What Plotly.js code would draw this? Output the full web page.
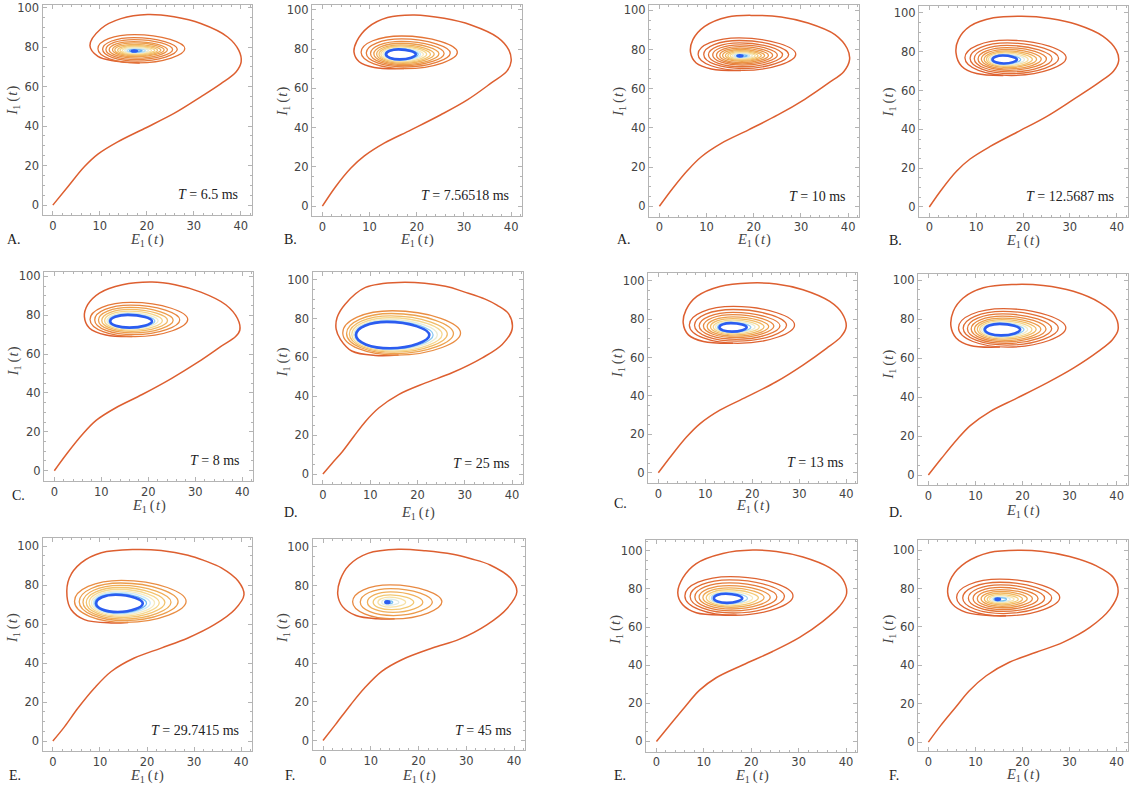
<!DOCTYPE html>
<html><head><meta charset="utf-8">
<script src="https://cdn.plot.ly/plotly-3.0.1.min.js"></script>
<style>html,body{margin:0;padding:0;background:#fff}</style>
</head><body><div id="chart" style="width:1129px;height:786px"></div>
<script>
// ---------------- data ----------------
const panelLetters = ['A.','B.','A.','B.','C.','D.','C.','D.','E.','F.','E.','F.'];
const periodLabels = ['6.5','7.56518','10','12.5687','8','25','13','','29.7415','45','',''];
const xTickVals = [0,10,20,30,40];
const yTickVals = [0,20,40,60,80,100];

// outer trajectories (E1, I1)
const trajX1 = [0,3.2,6.7,9.6,13.8,19.5,25.8,31.5,35.8,39.0,40.1,39.6,37.2,31.5,25.8,20.2,14.5,10.3,7.9,9.6,13.1,18.5];
const trajY1 = [0,9.3,19.4,25.8,32.0,38.8,46.4,54.8,61.5,67.4,72.5,78.3,85.1,91.9,95.3,96.5,94.4,89.4,80.8,75.3,73.0,72.0];
const trajX2 = [0,2.8,6.0,8.9,13.1,18.8,25.1,30.8,35.8,39.1,40.0,39.5,37.2,31.5,25.8,19.5,13.8,9.6,7.3,6.7,7.8,11.0,17.3];
const trajY2 = [0,9.9,19.3,25.6,32.1,38.9,46.6,54.3,62.8,68.8,73.9,79.6,85.9,92.3,95.7,97.4,96.1,91.0,84.1,78.5,73.6,70.7,70.1];
const trajX3 = [0,2.8,6.0,8.9,13.1,18.8,25.1,30.8,35.8,39.1,40.3,39.8,37.2,31.5,25.8,20.2,14.5,9.6,7.1,6.6,7.8,11.0,17.3];
const trajY3 = [0,9.1,18.4,25.3,32.1,38.9,46.6,54.6,62.8,68.8,74.8,80.5,87.6,93.5,96.6,97.4,96.6,91.8,85.0,78.5,73.1,70.1,69.3];
const trajX4 = [0,2.6,5.8,8.7,13.0,18.7,25.1,30.7,36.1,39.3,40.4,39.9,37.1,31.5,25.8,19.7,13.7,8.7,6.2,5.7,6.9,10.1,15.8];
const trajY4 = [0,8.9,18.4,24.7,31.2,38.5,46.7,55.3,63.9,69.9,75.1,80.8,87.9,94.0,97.1,98.2,97.4,93.1,86.2,79.4,72.5,68.7,67.7];
const trajX5 = [0,2.9,6.1,8.9,13.1,18.7,24.9,30.5,35.4,38.6,39.5,39.0,36.5,31.2,25.7,20.8,14.5,9.6,7.1,6.4,7.5,11.0,16.6];
const trajY5 = [0,9.5,19.0,25.9,32.4,39.2,47.4,55.7,63.8,69.0,72.4,78.3,85.4,91.9,95.7,97.1,95.7,91.4,85.4,79.3,73.3,69.8,69.0];
const trajX6 = [0,2.0,4.1,6.6,9.0,11.8,16.0,21.7,27.3,33.7,37.9,40.0,39.3,36.8,34.3,30.0,25.9,16.0,9.0,4.7,3.0,2.8,3.7,6.1,11.1,16.0];
const trajY6 = [0,5.7,11.5,19.6,27.1,34.0,40.9,46.9,52.1,59.8,66.7,74.5,82.3,86.9,90.0,93.6,96.6,98.6,96.0,87.4,80.5,74.5,69.3,63.3,61.0,61.2];
const trajX7 = [0,2.8,6.0,8.9,13.1,18.8,25.1,30.8,35.8,38.9,40.0,39.1,36.5,30.8,25.1,19.5,13.1,8.2,5.9,5.3,6.4,9.6,15.9];
const trajY7 = [0,9.0,18.6,25.6,32.6,39.5,47.4,56.1,64.8,70.9,76.1,83.1,89.2,95.3,98.3,98.8,97.0,91.8,84.8,77.9,71.8,68.3,67.4];
const trajX8 = [0,2.8,6.0,8.9,13.1,18.8,25.1,30.8,36.1,39.1,40.3,39.5,36.5,30.8,24.4,18.0,11.7,7.4,5.3,4.8,5.9,8.9,15.2];
const trajY8 = [0,8.6,18.0,25.4,32.6,39.5,47.2,54.9,63.5,69.5,74.6,82.3,88.4,94.3,97.3,97.8,96.1,90.9,84.1,76.3,70.4,66.5,65.7];
const trajX9 = [0,2.5,5.3,8.8,12.4,17.3,23.0,28.7,34.3,38.6,40.6,39.4,35.8,32.2,28.7,23.0,17.3,10.3,6.0,3.5,3.0,3.9,6.7,12.4,16.0];
const trajY9 = [0,7.4,16.8,27.1,35.7,42.6,47.7,52.9,59.7,67.4,75.1,82.0,88.9,92.6,95.4,97.8,98.3,96.6,91.4,83.7,74.3,67.4,62.3,60.6,60.9];
const trajX10 = [0,2.6,5.8,8.7,12.3,16.5,22.9,28.6,34.3,38.6,40.6,39.3,35.0,31.0,27.2,21.5,15.8,9.4,5.5,3.6,3.1,4.1,6.9,11.5,15.0];
const trajY10 = [0,8.2,18.5,27.1,35.7,41.7,47.7,52.3,59.7,68.3,76.8,83.7,90.6,93.8,96.1,97.9,98.7,96.6,90.6,82.9,75.1,69.1,64.5,62.8,62.8];
const trajX11 = [0,2.8,6.0,9.1,12.6,18.2,24.5,30.2,35.1,38.6,40.1,39.3,36.5,30.9,25.3,20.3,14.0,8.4,5.6,4.5,5.5,8.4,14.7,16.9];
const trajY11 = [0,8.5,18.1,26.9,33.4,40.1,47.2,54.6,63.0,70.9,77.5,85.0,91.2,96.8,99.7,100.4,98.6,93.3,85.9,78.0,71.8,67.5,66.2,66.2];
const trajX12 = [0,2.6,5.8,8.7,12.3,17.2,22.9,28.6,34.3,38.6,40.3,39.3,35.7,30.0,24.3,19.4,13.0,8.0,5.0,4.1,5.1,8.0,14.4,16.5];
const trajY12 = [0,8.6,18.2,26.8,34.6,41.6,46.8,52.0,59.8,69.3,78.0,85.8,91.8,96.7,99.3,100.0,98.8,93.6,86.1,78.0,71.9,67.6,65.8,65.8];

// inner loops: left / right / bottom / top extents of each turn (outer -> inner)
const ringL1 = [9.6,10.6,11.3,12.0,12.7,13.2,13.8,14.3,14.8,15.3,15.8,16.3,16.8];
const ringR1 = [28.1,26.5,25.5,24.4,23.7,23.0,22.3,21.7,21.0,20.4,19.7,19.0,17.9];
const ringB1 = [72.0,72.9,73.7,74.4,75.1,75.6,76.0,76.4,76.8,77.1,77.3,77.6,77.8];
const ringT1 = [86.3,84.8,83.8,82.8,82.1,81.4,80.8,80.3,79.8,79.4,79.0,78.7,78.3];
const ringL2 = [8.2,9.3,10.2,10.9,11.5,12.0,12.4,12.8,13.1,13.3,13.5];
const ringR2 = [28.6,27.1,25.8,24.7,23.7,22.9,22.1,21.4,20.8,20.3,19.8];
const ringB2 = [70.1,70.9,71.6,72.2,72.8,73.3,73.7,74.0,74.3,74.6,74.8];
const ringT2 = [86.7,85.2,84.0,83.0,82.2,81.6,81.1,80.7,80.4,80.1,79.9];
const ringL3 = [8.2,9.4,10.4,11.3,12.1,12.8,13.4,14.0,14.5,15.0,15.5,15.9,16.3,16.6];
const ringR3 = [28.9,27.4,26.1,25.0,24.0,23.1,22.3,21.6,20.9,20.3,19.7,19.1,18.6,17.6];
const ringB3 = [69.3,70.3,71.2,72.0,72.7,73.3,73.9,74.4,74.8,75.2,75.6,75.9,76.2,76.5];
const ringT3 = [85.9,84.6,83.4,82.4,81.5,80.7,80.0,79.4,78.9,78.4,78.0,77.6,77.3,77.1];
const ringL4 = [7.6,8.7,9.6,10.4,11.1,11.7,12.2,12.6,13.0,13.3,13.5];
const ringR4 = [29.2,27.6,26.2,25.0,23.9,22.9,22.0,21.1,20.3,19.5,18.7];
const ringB4 = [67.7,68.7,69.6,70.4,71.1,71.8,72.3,72.8,73.2,73.6,73.9];
const ringT4 = [85.9,84.5,83.2,82.1,81.2,80.4,79.8,79.2,78.7,78.3,78.0];
const ringL5 = [7.6,8.6,9.4,10.1,10.7,11.2,11.6,11.9];
const ringR5 = [28.4,26.7,25.3,24.1,23.0,22.1,21.4,20.8];
const ringB5 = [69.0,70.0,70.9,71.7,72.3,72.9,73.3,73.6];
const ringT5 = [86.6,85.2,84.0,83.0,82.1,81.3,80.7,80.2];
const ringL6 = [4.2,5.0,5.6,6.1,6.5,6.8,7.0];
const ringR6 = [29.1,27.6,26.3,25.2,24.2,23.3,22.5];
const ringB6 = [61.2,62.0,62.7,63.3,63.9,64.3,64.7];
const ringT6 = [84.0,82.6,81.4,80.4,79.5,78.8,78.3];
const ringL7 = [6.6,7.7,8.7,9.6,10.4,11.1,11.7,12.2,12.6,13.0];
const ringR7 = [29.0,27.3,25.9,24.6,23.5,22.5,21.5,20.6,19.7,18.8];
const ringB7 = [67.4,68.5,69.5,70.4,71.1,71.8,72.4,72.9,73.2,73.5];
const ringT7 = [86.6,85.0,83.5,82.3,81.2,80.3,79.5,78.9,78.3,77.9];
const ringL8 = [6.4,7.4,8.3,9.1,9.8,10.4,10.9,11.3,11.7,12.0];
const ringR8 = [29.2,27.6,26.2,25.0,23.9,22.9,22.0,21.1,20.3,19.5];
const ringB8 = [65.7,66.7,67.6,68.4,69.1,69.8,70.4,70.9,71.3,71.7];
const ringT8 = [85.4,84.0,82.7,81.6,80.6,79.8,79.1,78.5,78.0,77.6];
const ringL9 = [4.6,5.6,6.4,7.1,7.7,8.2,8.6,8.9,9.2];
const ringR9 = [28.3,26.6,25.1,23.8,22.6,21.6,20.7,19.9,19.1];
const ringB9 = [60.9,61.8,62.6,63.4,64.1,64.7,65.3,65.8,66.2];
const ringT9 = [82.5,81.1,79.9,78.8,77.9,77.1,76.4,75.7,75.1];
const ringL10 = [6.2,7.8,9.3,10.5,11.5,12.3,12.9,13.1];
const ringR10 = [24.9,22.9,20.9,19.0,17.3,15.9,14.6,13.9];
const ringB10 = [62.8,64.5,66.1,67.5,68.8,69.8,70.6,71.0];
const ringT10 = [80.3,78.4,76.7,75.2,74.0,73.0,72.2,71.8];
const ringL11 = [6.0,7.1,8.1,9.0,9.8,10.5,11.1,11.6,12.1];
const ringR11 = [28.8,27.0,25.4,24.0,22.7,21.5,20.3,19.2,18.1];
const ringB11 = [66.2,67.4,68.5,69.5,70.4,71.1,71.7,72.2,72.7];
const ringT11 = [86.5,84.8,83.2,81.8,80.6,79.6,78.8,78.1,77.5];
const ringL12 = [6.0,7.3,8.5,9.5,10.4,11.2,11.9,12.5,13.0,13.5,13.9,14.3];
const ringR12 = [27.9,26.2,24.7,23.3,22.1,21.0,20.0,19.1,18.2,17.4,16.6,15.2];
const ringB12 = [65.8,67.0,68.1,69.1,70.0,70.8,71.5,72.1,72.7,73.2,73.6,74.1];
const ringT12 = [84.9,83.3,81.9,80.6,79.5,78.5,77.7,76.9,76.3,75.7,75.3,74.8];

// ---------------- layout & style (pixels of the 1129x786 page) ----------------
const W = 1129, H = 786;
const frames = [[42.5,251.5,5,215],[312,522,5,216],[649,859,5,216.5],[919,1127.5,6,216.5],
                [44,253,271.5,481],[312.5,523,271.5,484],[648,857,273,483],[918,1127.5,274,485],
                [42.5,252,538,751],[312.5,525,539,750],[646,857,540,751.5],[918,1127.5,540,751]];
const xRange = [-2.2,42.3];
const yRanges = [[-5,101.3],[-5,102.5],[-5.2,102.7],[-4.9,103.5],[-5.3,102.5],[-5.1,104.2],
                 [-5.3,104],[-5.1,103.2],[-5.1,104.2],[-4.9,104],[-5.3,105.7],[-4.6,105.3]];
const letterPos = [[5,239],[282,239],[615,239],[887,240],[10,495],[282,512],[612,504],[887,512],
                   [7,775],[283,775],[612,775],[887,775]];
const xTitleY = [240,240,240,241,506,513,506,511,776,776,776,775];
const yTitleShift = [-9,-9,-9,-9,-15,-15,-15,-15,-16,-16,-16,-16];
// colour position of the outermost inner loop on the orange->blue scale, per panel
const loopColorStart = [0.2,0.22,0.04,0.04,0.25,0.38,0.04,0.04,0.38,0.36,0.04,0.04];

const panels = [
  [trajX1,trajY1,ringL1,ringR1,ringB1,ringT1],[trajX2,trajY2,ringL2,ringR2,ringB2,ringT2],
  [trajX3,trajY3,ringL3,ringR3,ringB3,ringT3],[trajX4,trajY4,ringL4,ringR4,ringB4,ringT4],
  [trajX5,trajY5,ringL5,ringR5,ringB5,ringT5],[trajX6,trajY6,ringL6,ringR6,ringB6,ringT6],
  [trajX7,trajY7,ringL7,ringR7,ringB7,ringT7],[trajX8,trajY8,ringL8,ringR8,ringB8,ringT8],
  [trajX9,trajY9,ringL9,ringR9,ringB9,ringT9],[trajX10,trajY10,ringL10,ringR10,ringB10,ringT10],
  [trajX11,trajY11,ringL11,ringR11,ringB11,ringT11],[trajX12,trajY12,ringL12,ringR12,ringB12,ringT12]
];

const outerColor = 'rgb(221,95,48)';
const stops = [[0,[221,95,48]],[0.3,[230,125,58]],[0.5,[238,165,80]],[0.65,[244,205,120]],
               [0.76,[249,234,185]],[0.84,[212,236,246]],[0.92,[110,188,242]],[1,[43,92,240]]];
function colorAt(f){
  for(let i=1;i<stops.length;i++){
    if(f<=stops[i][0]){
      const a=stops[i-1], b=stops[i], t=(f-a[0])/(b[0]-a[0]);
      const c=a[1].map((v,k)=>Math.round(v+(b[1][k]-v)*t));
      return 'rgb('+c.join(',')+')';
    }
  }
  return 'rgb(43,92,240)';
}
// egg-shaped closed loop through the four extents, as an SVG path in data units
function loopPath(l,r,b,t){
  const yc=(b+t)/2, xt=l+0.42*(r-l), xb=l+0.46*(r-l), k=0.56, kv=0.42;
  const f=v=>v.toFixed(3);
  return 'M'+f(l)+','+f(yc)+
    ' C'+f(l)+','+f(yc+k*(t-yc))+' '+f(xt-k*(xt-l))+','+f(t)+' '+f(xt)+','+f(t)+
    ' C'+f(xt+k*(r-xt))+','+f(t)+' '+f(r)+','+f(yc+kv*(t-yc))+' '+f(r)+','+f(yc)+
    ' C'+f(r)+','+f(yc-kv*(yc-b))+' '+f(xb+k*(r-xb))+','+f(b)+' '+f(xb)+','+f(b)+
    ' C'+f(xb-k*(xb-l))+','+f(b)+' '+f(l)+','+f(yc-k*(yc-b))+' '+f(l)+','+f(yc)+' Z';
}

const data = [];
const layout = {
  width: W, height: H, margin:{l:0,r:0,t:0,b:0},
  paper_bgcolor:'#fff', plot_bgcolor:'#fff', showlegend:false,
  annotations: [], shapes: []
};
const frameGray = '#b4b4b4';
const serif = 'Liberation Serif, Times New Roman, serif';

panels.forEach((p,j)=>{
  const s = j===0 ? '' : String(j+1);
  const [L,R,T,B] = frames[j];
  const ax = {
    showline:true, mirror:'allticks', linecolor:frameGray, linewidth:1,
    ticks:'inside', ticklen:4, tickwidth:1, tickcolor:frameGray,
    showgrid:false, zeroline:false, fixedrange:true,
    tickfont:{family:'DejaVu Sans, sans-serif', size:11.5, color:'#444'}
  };
  layout['xaxis'+s] = Object.assign({}, ax, {
    domain:[L/W, R/W], range:xRange, anchor:'y'+s, tickmode:'array', tickvals:xTickVals,
    minor:{tickmode:'linear', tick0:0, dtick:2, ticklen:2, tickcolor:frameGray, ticks:'inside'}
  });
  layout['yaxis'+s] = Object.assign({}, ax, {
    domain:[1-B/H, 1-T/H], range:yRanges[j], anchor:'x'+s, tickmode:'array', tickvals:yTickVals,
    minor:{tickmode:'linear', tick0:0, dtick:5, ticklen:2, tickcolor:frameGray, ticks:'inside'}
  });

  const [tx,ty,rl,rr,rb,rt] = p;
  data.push({type:'scatter', mode:'lines', x:tx, y:ty, xaxis:'x'+s, yaxis:'y'+s,
    line:{color:outerColor, width:1.5, shape:'spline', smoothing:1}, hoverinfo:'skip'});
  const n = rl.length, f0 = loopColorStart[j];
  for(let i=0;i<n;i++){
    const f = f0 + (1-f0)*i/(n-1);
    layout.shapes.push({type:'path', xref:'x'+s, yref:'y'+s, path:loopPath(rl[i],rr[i],rb[i],rt[i]),
      line:{color:colorAt(f), width: i===n-1 ? 2.6 : 1.3}, fillcolor:'rgba(0,0,0,0)', layer:'above'});
  }

  // texts
  layout.annotations.push({xref:'paper', yref:'paper', x:letterPos[j][0]/W, y:1-letterPos[j][1]/H,
    xanchor:'left', yanchor:'middle', text:panelLetters[j], showarrow:false,
    font:{family:serif, size:14, color:'#222'}});
  layout.annotations.push({xref:'paper', yref:'paper', x:((L+R)/2)/W, y:1-xTitleY[j]/H,
    xanchor:'center', yanchor:'middle', text:'<i>E</i><sub>1</sub>\u2009(\u200a<i>t</i>\u200a)', showarrow:false,
    font:{family:serif, size:14.5, color:'#444'}});
  layout.annotations.push({xref:'paper', yref:'paper', x:(L-30)/W, y:1-((T+B)/2+yTitleShift[j])/H,
    xanchor:'center', yanchor:'middle', textangle:-90, text:'<i>I</i><sub>1</sub>\u2009(\u200a<i>t</i>\u200a)', showarrow:false,
    font:{family:serif, size:14.5, color:'#444'}});
  if(periodLabels[j]){
    layout.annotations.push({xref:'x'+s, yref:'y'+s, x:39.9, y:5.2, xanchor:'right', yanchor:'middle',
      text:'<i>T</i> = '+periodLabels[j]+' ms', showarrow:false,
      font:{family:serif, size:14, color:'#222'}});
  }
});

Plotly.newPlot('chart', data, layout, {staticPlot:true, displayModeBar:false});
</script>
</body></html>
